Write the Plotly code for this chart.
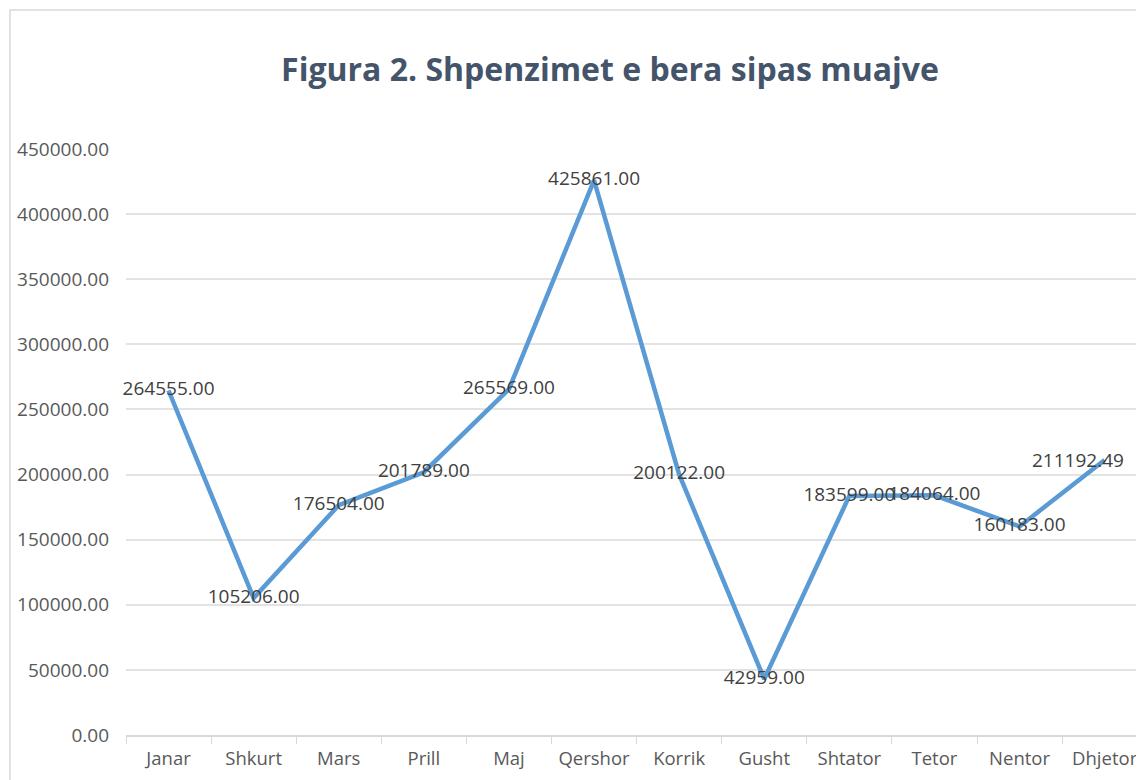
import plotly.graph_objects as go

months = ["Janar", "Shkurt", "Mars", "Prill", "Maj", "Qershor", "Korrik",
          "Gusht", "Shtator", "Tetor", "Nentor", "Dhjetor"]
expenses = [264555.00, 105206.00, 176504.00, 201789.00, 265569.00, 425861.00,
            200122.00, 42959.00, 183599.00, 184064.00, 160183.00, 211192.49]
y_ticks = [0, 50000, 100000, 150000, 200000, 250000, 300000, 350000, 400000, 450000]

# page has an 8px body margin, so figure is drawn offset by 8px
W, H = 1136, 772
ML, MR, MT, MB = 118, 0, 141, 45
pw = W - ML - MR
ph = H - MT - MB
band = 85.1
label_font = dict(family="Open Sans", size=19, color="#404040")

labels = [f"{v:.2f}" for v in expenses]
# last label is kept inside the chart area (shifted left), as Excel does
point_labels = labels[:-1] + [""]

fig = go.Figure()
fig.add_trace(go.Scatter(
    x=months, y=expenses,
    mode="lines+text",
    line=dict(color="#5B9BD5", width=4.5),
    text=point_labels,
    textposition="middle center",
    textfont=label_font,
    cliponaxis=False,
    hoverinfo="skip",
))
fig.add_annotation(
    x=months[-1], y=expenses[-1], xref="x", yref="y",
    text=labels[-1], showarrow=False,
    xanchor="center", yanchor="middle", xshift=-27,
    font=label_font,
)

fig.update_layout(
    width=W, height=H,
    margin=dict(l=ML, r=MR, t=MT, b=MB),
    paper_bgcolor="white", plot_bgcolor="white",
    showlegend=False,
    title=dict(
        text="<b>Figura 2. Shpenzimet e bera sipas muajve</b>",
        x=(602 - ML) / pw, xref="paper", xanchor="center",
        y=1 - 62 / H, yref="container", yanchor="middle",
        font=dict(family="Open Sans", size=32, color="#44546A"),
    ),
    font=dict(family="Open Sans", color="#595959"),
)

fig.update_xaxes(
    type="category",
    range=[-0.5, -0.5 + pw / band],
    showgrid=False,
    showline=True, linecolor="#D9D9D9", linewidth=1.5,
    ticks="outside", tickson="boundaries", ticklen=7, tickcolor="#D9D9D9",
    ticklabelstandoff=6,
    tickfont=dict(family="Open Sans", size=18.5, color="#595959"),
    fixedrange=True,
)
fig.update_yaxes(
    range=[0, 450000],
    tickvals=y_ticks,
    tickformat=".2f",
    showgrid=True, gridcolor="#E3E3E3", gridwidth=1.5,
    zeroline=False, showline=False,
    ticks="", ticklabelstandoff=16,
    tickfont=dict(family="Open Sans", size=19, color="#595959"),
    fixedrange=True,
)

# chart-area border (Excel style)
fig.add_shape(type="rect", xref="paper", yref="paper",
              x0=(2 - ML) / pw, x1=(W + 20 - ML) / pw,
              y0=-(MB + 20) / ph, y1=1 + (MT - 2) / ph,
              line=dict(color="#D9D9D9", width=1.5), fillcolor="rgba(0,0,0,0)",
              layer="below")

fig.write_html("out.html")
